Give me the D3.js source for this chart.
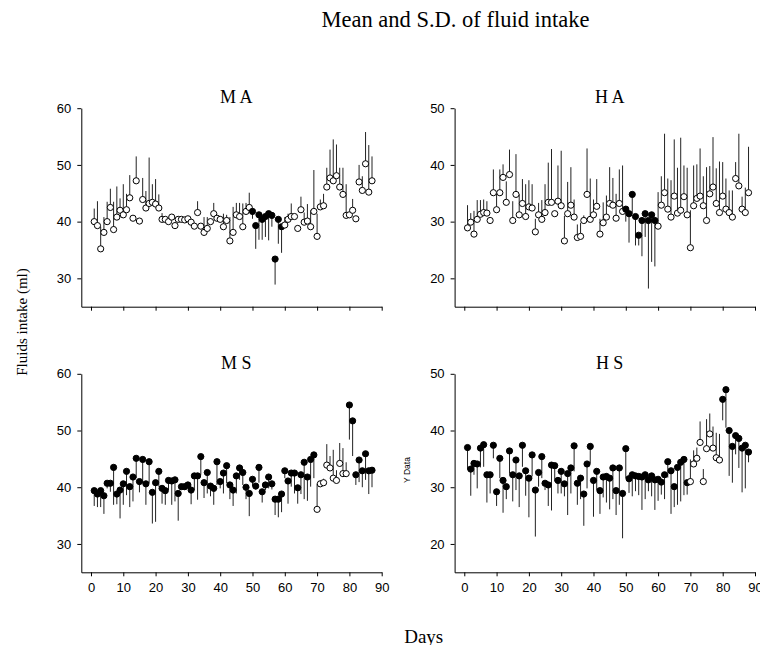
<!DOCTYPE html>
<html>
<head>
<meta charset="utf-8">
<script src="https://cdn.jsdelivr.net/npm/d3@7"></script>
<style>
body { margin: 0; background: #fff; }
</style>
</head>
<body>
<div id="chart"></div>
<script>
// Mean fluid intake per day (day = index + 1) and S.D. (sign = bar direction)
const maMean = [40.0,39.3,35.2,38.1,40.0,42.5,38.6,40.8,42.0,41.2,42.1,44.2,40.6,47.2,40.1,43.9,42.4,43.2,43.4,43.1,
  42.4,40.4,40.4,40.0,40.8,39.3,40.4,40.4,40.3,40.5,39.9,39.2,41.6,39.2,38.1,38.8,40.0,41.4,40.6,40.4,
  39.1,40.2,36.6,38.1,41.2,40.9,39.1,41.8,42.5,41.8,39.3,41.2,40.4,40.9,41.4,41.1,33.4,40.4,39.1,39.4,
  40.4,40.9,40.9,38.8,42.1,39.9,40.1,39.1,41.8,37.4,42.6,42.8,46.1,47.7,47.2,48.1,46.1,44.8,41.1,41.2,
  42.0,40.5,47.0,45.5,50.2,45.2,47.2]
const maSD = [2.3,4.3,3.9,2.7,3.5,3.3,4.9,5.4,2.1,5.4,2.8,4.0,0.3,4.3,0.3,3.8,3.0,8.1,3.2,4.4,
  2.4,1.1,0.3,0.3,0.4,0.3,0.3,0.3,0.3,0.3,0.3,0.3,2.0,0.3,2.7,2.0,0.3,1.9,0.3,0.3,
  2.3,1.0,4.2,4.5,2.1,2.4,4.1,1.5,2.6,-1.3,-4.1,-4.4,-3.6,-3.6,-4.7,-2.0,-4.5,-4.3,-4.6,1.4,
  1.0,2.3,0.3,0.3,2.3,1.7,3.0,2.9,7.3,4.0,1.3,2.1,3.4,5.0,7.3,5.5,3.4,4.7,5.5,0.3,
  2.0,0.5,3.0,2.5,5.6,8.3,4.3]
const maFilled = [[50, 59]]

const haMean = [28.9,29.9,27.8,30.4,31.3,31.6,31.5,30.2,35.1,32.1,35.1,37.8,33.4,38.3,30.2,34.8,31.2,33.2,30.9,32.6,
  32.4,28.2,31.2,30.4,31.6,33.4,33.4,31.4,33.6,32.8,26.6,31.4,32.9,30.8,27.2,27.4,30.2,34.8,30.4,31.2,
  32.7,27.8,29.8,30.8,33.2,32.9,30.6,33.2,31.8,32.2,31.4,34.8,30.9,27.6,30.2,31.4,30.2,31.2,30.2,29.2,
  32.9,35.1,32.2,30.8,34.5,31.5,32.0,34.4,31.2,25.4,32.8,34.1,34.5,32.8,30.2,34.9,36.1,33.2,31.6,34.5,
  32.2,31.6,30.8,37.6,36.3,32.2,31.6,35.1]
const haSD = [4.0,1.6,4.1,3.4,2.5,2.3,2.1,0.3,4.1,2.9,4.1,2.3,3.7,4.4,3.4,7.1,3.6,4.3,5.7,4.7,
  4.2,2.3,2.1,3.4,5.0,7.0,9.4,0.3,6.3,9.7,4.4,5.6,6.7,3.1,2.3,2.4,0.9,8.1,7.2,2.7,
  4.8,2.7,3.6,3.8,6.4,4.8,4.3,6.0,8.1,-2.2,-5.1,-3.4,-5.1,-1.8,-6.3,-4.1,-12.0,-8.3,-8.1,6.0,
  5.1,10.4,5.4,6.5,10.0,8.0,12.8,5.5,8.3,6.6,7.1,6.0,8.4,5.2,9.4,4.9,8.8,6.2,9.0,6.0,
  5.4,3.9,4.7,2.9,9.2,2.2,4.4,8.1]
const haFilled = [[50, 59]]

const msMean = [39.4,38.8,39.4,38.5,40.7,40.7,43.5,38.8,39.5,40.6,42.8,40.1,41.8,45.1,41.0,44.9,40.6,44.5,39.1,40.8,
  42.8,39.8,39.4,41.2,41.1,41.3,38.9,40.1,40.1,40.4,39.5,42.0,42.0,45.4,40.8,42.6,40.2,39.8,44.5,41.0,
  42.5,43.8,40.4,39.5,42.0,43.4,42.6,40.0,38.9,41.4,40.2,43.5,39.2,40.4,41.8,40.6,37.9,37.9,38.8,42.9,
  41.1,42.5,42.5,39.9,42.2,44.4,41.8,44.9,45.7,36.1,40.6,40.8,43.9,43.4,41.6,41.2,44.2,42.4,42.4,54.5,
  51.7,42.2,44.8,42.9,45.9,42.9,43.0]
const msSD = [-2.7,-2.3,-2.9,-3.2,-0.9,-1.5,-6.6,-1.8,-5.0,-3.7,-4.2,-3.6,-4.3,-3.5,-1.9,-4.2,-3.7,-3.8,-5.5,-6.9,
  -2.7,-2.7,-2.5,-1.7,-4.2,-3.8,-4.8,-0.5,-0.6,-0.6,-2.5,-2.5,-4.2,-3.2,-2.7,-3.7,-1.8,-2.9,-4.1,-1.2,
  -3.6,-3.1,-2.5,-2.8,-3.1,-2.1,-2.2,-2.1,-4.0,-1.2,-0.6,-2.7,-1.9,-0.9,-2.0,-1.0,-2.8,-3.2,-3.2,-1.3,
  -4.0,-2.4,-3.6,-2.8,-3.4,-6.5,-4.2,-4.8,-4.1,4.5,0.6,0.7,3.7,2.1,5.0,1.8,3.6,4.5,2.0,-6.1,
  -6.2,-1.8,-3.9,-2.9,-4.6,-4.1,-3.0]
const msFilled = [[1, 69], [80, 88]]

const hsMean = [37.0,33.2,34.2,34.1,36.9,37.5,32.2,32.2,37.4,29.2,35.1,31.2,30.1,36.4,32.2,34.8,32.0,37.4,32.9,31.6,
  35.7,29.5,32.6,35.4,30.7,30.4,33.9,33.8,31.2,32.8,30.6,32.4,33.4,37.3,30.7,31.6,28.8,34.1,37.2,31.2,
  32.8,29.4,31.8,31.9,31.6,33.4,29.4,33.4,28.9,36.8,31.5,32.2,32.0,31.9,31.8,32.2,31.3,32.0,31.3,31.4,
  30.9,32.2,34.5,32.9,30.1,33.5,34.4,34.9,30.8,31.0,34.1,35.1,37.9,31.0,36.8,39.4,36.9,35.2,34.8,45.5,
  47.2,40.0,37.2,39.1,38.6,36.9,37.4,36.2]
const hsSD = [-3.9,-4.7,-2.0,-4.3,-3.4,-3.9,-4.9,-3.3,-2.3,-2.5,-3.5,-5.7,-2.2,-4.0,-4.7,-5.3,-5.5,-3.8,-4.4,-6.9,
  -3.8,-8.2,-2.5,-3.8,-1.2,-3.7,-8.0,-2.8,-2.3,-3.9,-2.2,-7.3,-4.5,-4.5,-3.8,-3.7,-5.6,-4.3,-3.0,-6.4,
  -3.3,-4.1,-3.6,-4.6,-5.5,-5.5,-4.3,-6.5,-7.9,-5.2,-2.5,-3.8,-2.7,-3.3,-5.8,-4.3,-2.0,-3.6,-5.3,-3.8,
  -2.2,-4.3,-2.8,-7.6,-3.6,-6.6,-6.9,-6.3,-2.1,3.9,2.4,1.9,3.7,2.2,5.2,3.6,3.8,4.4,4.6,-3.7,
  -6.7,-8.0,-6.4,-3.3,-5.2,-7.8,-7.6,-1.8]
const hsFilled = [[1, 69], [80, 88]]

const xTicks = [0, 10, 20, 30, 40, 50, 60, 70, 80, 90]
const mTicks = [30, 40, 50, 60]
const hTicks = [20, 30, 40, 50]

const svg = d3.select('#chart').append('svg')
  .attr('width', 760)
  .attr('height', 645)

// one small panel
function drawPanel(p){
  let x = d3.scaleLinear().domain([-3, 90]).range([p.left, p.left + 300.4])
  let y = d3.scaleLinear().domain(p.yDomain).range([p.bottom, p.bottom - 198.5])
  let g = svg.append('g')

  let xAxis = d3.axisBottom(x).tickValues(xTicks).tickSize(4).tickSizeOuter(0).tickPadding(6)
  if(!p.xLabels) xAxis.tickFormat('')
  g.append('g').attr('transform', 'translate(0,' + p.bottom + ')').call(xAxis)

  let yAxis = d3.axisLeft(y).tickValues(p.yTicks).tickSize(4).tickSizeOuter(0).tickPadding(6)
  g.append('g').attr('transform', 'translate(' + p.left + ',0)').call(yAxis)

  g.selectAll('.domain, .tick line').attr('stroke', '#000')
  g.selectAll('.tick text')
    .attr('font-family', 'Liberation Sans, Arial, sans-serif')
    .attr('font-size', 13)
    .attr('fill', '#000')

  let pts = p.mean.map((m, i) => ({day: i + 1, m: m, sd: p.sd[i]}))
  let isFilled = d => p.filled.some(r => d.day >= r[0] && d.day <= r[1])

  // S.D. bars
  g.selectAll('.bar').data(pts).enter().append('line')
    .attr('x1', d => x(d.day)).attr('x2', d => x(d.day))
    .attr('y1', d => y(d.m)).attr('y2', d => y(d.m + d.sd))
    .attr('stroke', '#222')
    .attr('stroke-width', 1)

  g.selectAll('.pt').data(pts).enter().append('circle')
    .attr('cx', d => x(d.day))
    .attr('cy', d => y(d.m))
    .attr('r', 3.1)
    .attr('fill', d => isFilled(d) ? '#000' : '#fff')
    .attr('stroke', '#000')
    .attr('stroke-width', 1)

  g.append('text')
    .attr('x', x(45)).attr('y', p.bottom - 198.5 - 5)
    .attr('text-anchor', 'middle')
    .attr('font-family', 'Liberation Serif, Times New Roman, serif')
    .attr('font-size', 18)
    .text(p.title)
}

drawPanel({title: 'M A', mean: maMean, sd: maSD, filled: maFilled, yDomain: [25, 60], yTicks: mTicks, left: 81.3, bottom: 306.7, xLabels: false})
drawPanel({title: 'H A', mean: haMean, sd: haSD, filled: haFilled, yDomain: [15, 50], yTicks: hTicks, left: 454.6, bottom: 306.7, xLabels: false})
drawPanel({title: 'M S', mean: msMean, sd: msSD, filled: msFilled, yDomain: [25, 60], yTicks: mTicks, left: 81.3, bottom: 572.3, xLabels: true})
drawPanel({title: 'H S', mean: hsMean, sd: hsSD, filled: hsFilled, yDomain: [15, 50], yTicks: hTicks, left: 454.6, bottom: 572.3, xLabels: true})

// titles
svg.append('text')
  .attr('x', 455.5).attr('y', 26.7)
  .attr('text-anchor', 'middle')
  .attr('font-family', 'Liberation Serif, Times New Roman, serif')
  .attr('font-size', 22.5)
  .text('Mean and S.D. of fluid intake')

svg.append('text')
  .attr('x', 423.7).attr('y', 642.5)
  .attr('text-anchor', 'middle')
  .attr('font-family', 'Liberation Serif, Times New Roman, serif')
  .attr('font-size', 19)
  .text('Days')

svg.append('text')
  .attr('transform', 'translate(27,322) rotate(-90)')
  .attr('text-anchor', 'middle')
  .attr('font-family', 'Liberation Serif, Times New Roman, serif')
  .attr('font-size', 15)
  .text('Fluids intake (ml)')

svg.append('text')
  .attr('transform', 'translate(410,470) rotate(-90)')
  .attr('text-anchor', 'middle')
  .attr('font-family', 'Liberation Sans, Arial, sans-serif')
  .attr('font-size', 8.5)
  .text('Y Data')
</script>
</body>
</html>
